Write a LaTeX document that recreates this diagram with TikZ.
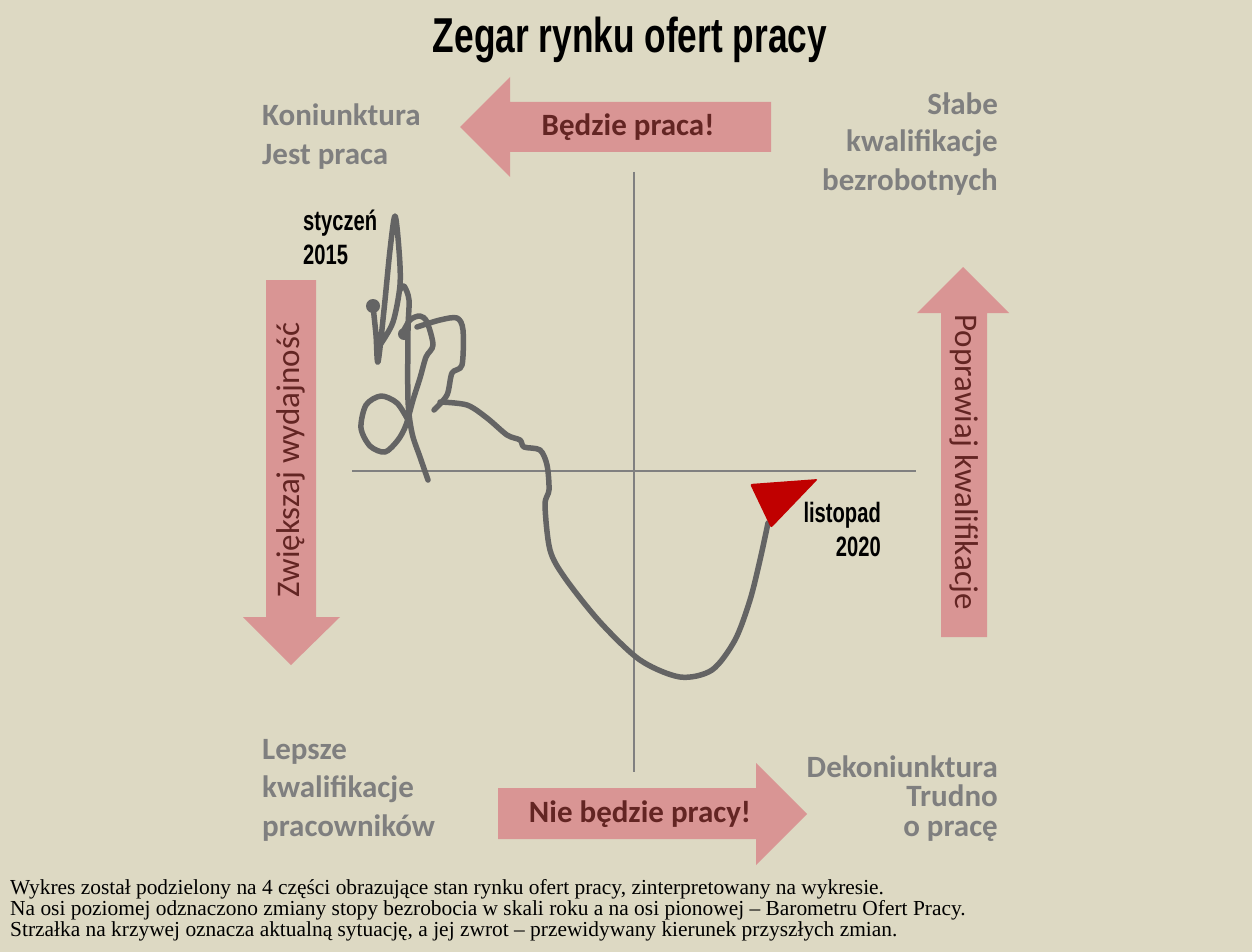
\documentclass[tikz,border=0pt]{standalone}
\usepackage{fontspec}
\setmainfont{Carlito}
\newfontfamily\condfont[FakeStretch=0.72]{Liberation Sans}
\newfontfamily\timesfam{Liberation Serif}
\usetikzlibrary{calc}

\definecolor{tlo}{RGB}{221,217,195}
\definecolor{strzalka}{RGB}{217,149,148}
\definecolor{ciemny}{RGB}{99,37,35}
\definecolor{szary}{RGB}{127,127,127}
\definecolor{krzywa}{RGB}{100,100,100}
\definecolor{osie}{RGB}{128,128,128}
\definecolor{czerwony}{RGB}{192,0,0}

\tikzset{
  cwiartka/.style={text=szary, inner sep=0pt, font=\bfseries\fontsize{31}{37}\selectfont},
  napis/.style={text=ciemny, inner sep=0pt, font=\bfseries\fontsize{31}{36}\selectfont},
  pion/.style={text=ciemny, inner sep=0pt, font=\fontsize{33}{38}\selectfont},
  data/.style={inner sep=0pt, font=\condfont\bfseries\fontsize{28}{32}\selectfont},
  opis/.style={inner sep=0pt, anchor=base west, font=\timesfam\fontsize{21.4}{23}\selectfont},
  linia/.style={krzywa, line width=5.5, line cap=round, line join=round}
}

\begin{document}
\begin{tikzpicture}[x=1pt, y=-1pt]

	\clip (0,0) rectangle (1252,952);
	\fill[tlo] (0,0) rectangle (1252,952);

	\node[anchor=base, inner sep=0pt, font=\condfont\bfseries\fontsize{49}{55}\selectfont] (tytul) at (630,53) {Zegar rynku ofert pracy};

	% osie
	\draw[osie, line width=2] (634,172) -- (634,772);
	\draw[osie, line width=2] (352,471) -- (916,471);

	% strzalki
	\fill[strzalka] (771,102) -- (510,102) -- (510,77) -- (460,127) -- (510,177) -- (510,152) -- (771,152) -- cycle;
	\fill[strzalka] (498,788) -- (756,788) -- (756,763) -- (807,814) -- (756,865) -- (756,839) -- (498,839) -- cycle;
	\fill[strzalka] (266,280) -- (316,280) -- (316,617) -- (340,617) -- (291,665) -- (243,617) -- (266,617) -- cycle;
	\fill[strzalka] (941,637) -- (941,313) -- (917,313) -- (963,267) -- (1009,313) -- (987,313) -- (987,637) -- cycle;

	\node[napis] (bedzie) at (628,127) {Będzie praca!};
	\node[napis] (niebedzie) at (640,814) {Nie będzie pracy!};
	\node[pion, rotate=90] (wydajnosc) at (291,460) {Zwiększaj wydajność};
	\node[pion, rotate=-90] (kwalifikacje) at (964,462) {Poprawiaj kwalifikacje};

	% cwiartki
	\node[cwiartka, anchor=base west] (kon1) at (262,126) {Koniunktura};
	\node[cwiartka, anchor=base west] (kon2) at (262,165) {Jest praca};
	\node[cwiartka, anchor=base east] (sla1) at (998,115) {Słabe};
	\node[cwiartka, anchor=base east] (sla2) at (998,152) {kwalifikacje};
	\node[cwiartka, anchor=base east] (sla3) at (998,190) {bezrobotnych};
	\node[cwiartka, anchor=base west] (lep1) at (262,759) {Lepsze};
	\node[cwiartka, anchor=base west] (lep2) at (262,797) {kwalifikacje};
	\node[cwiartka, anchor=base west] (lep3) at (262,836) {pracowników};
	\node[cwiartka, anchor=base east] (dek1) at (998,777) {Dekoniunktura};
	\node[cwiartka, anchor=base east] (dek2) at (998,806) {Trudno};
	\node[cwiartka, anchor=base east] (dek3) at (998,836) {o pracę};

	% krzywa
	\fill[krzywa] (373,306) circle (7);
	\fill[krzywa] (404,334) circle (6);
	\draw[linia] plot[smooth, tension=0.5] coordinates {(373,306) (376,335) (378,362) (384,310) (390,250) (395,216) (399,250) (400,285) (393,322) (380,345)};
	\draw[linia] plot[smooth, tension=0.5] coordinates {(400,290) (404,286) (409,300) (408,330) (408,400) (412,433) (420,457) (428,480)};
	\draw[linia] plot[smooth, tension=0.5] coordinates {(402,334) (410,320) (420,316) (427,322) (433,345) (426,357) (420,378) (413,400) (406,425) (398,440) (385,452) (370,446) (361,428) (366,405) (381,396) (397,403) (408,420)};
	\draw[linia] plot[smooth, tension=0.5] coordinates {(417,327) (440,320) (457,318) (463,330) (462,365) (452,373) (447,395) (434,410)};
	\draw[linia] plot[smooth, tension=0.5] coordinates {(440,402) (467,405) (487,418) (507,435) (520,440) (524,447) (540,450) (547,465) (549,490) (545,505) (550,550) (565,578) (600,622) (640,660) (680,677) (712,670) (735,640) (750,600) (760,560) (768,523)};
	\fill[czerwony, rounded corners=2] (750,484) -- (818,479) -- (771,528) -- cycle;

	\node[data, anchor=base west] (sty1) at (303,230) {styczeń};
	\node[data, anchor=base west] (sty2) at (303,264) {2015};
	\node[data, anchor=base east] (lis1) at (881,522) {listopad};
	\node[data, anchor=base east] (lis2) at (881,556) {2020};

	% opis
	\node[opis] (opis1) at (10,894) {Wykres został podzielony na 4 części obrazujące stan rynku ofert pracy, zinterpretowany na wykresie.};
	\node[opis] (opis2) at (10,915) {Na osi poziomej odznaczono zmiany stopy bezrobocia w skali roku a na osi pionowej – Barometru Ofert Pracy.};
	\node[opis] (opis3) at (10,936) {Strzałka na krzywej oznacza aktualną sytuację, a jej zwrot – przewidywany kierunek przyszłych zmian.};

\end{tikzpicture}
\end{document}
